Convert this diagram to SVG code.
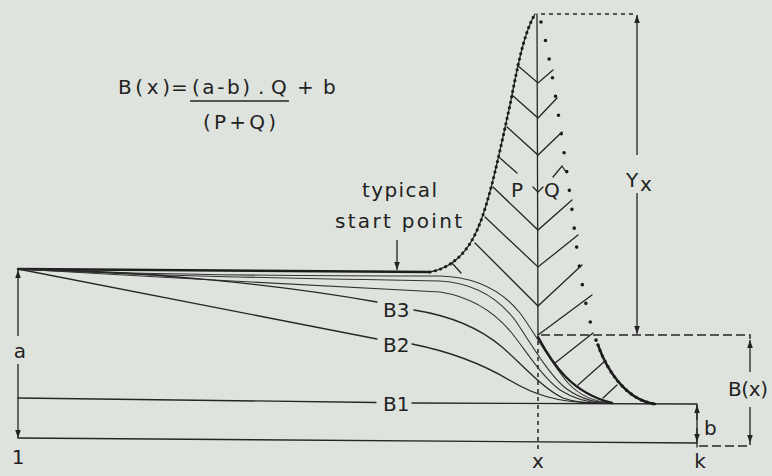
<svg xmlns="http://www.w3.org/2000/svg" width="772" height="476" viewBox="0 0 772 476">
<defs>
<style>
.ln{fill:none;stroke:#262626;stroke-width:1.3;stroke-linecap:round}
.bold{fill:none;stroke:#1c1c1c;stroke-width:2.4;stroke-linecap:round}
.thin{fill:none;stroke:#333;stroke-width:1.1}
.dots{fill:none;stroke:#1c1c1c;stroke-linecap:round}
.dash{fill:none;stroke:#262626;stroke-width:1.5;stroke-dasharray:4 4}
.dashdot{fill:none;stroke:#262626;stroke-width:1.5;stroke-dasharray:9 4}
.dim{fill:none;stroke:#262626;stroke-width:1.3}
text{font-family:"DejaVu Sans","Liberation Sans",sans-serif;font-size:20px;fill:#222}
</style>
<marker id="ah" viewBox="0 0 10 10" refX="10" refY="5" markerWidth="8" markerHeight="8" markerUnits="userSpaceOnUse" orient="auto-start-reverse">
<path d="M0,1.5 L10,5 L0,8.5 z" fill="#222"/>
</marker>
</defs>
<rect width="772" height="476" fill="#dfe3de"/>

<g id="formula">
<text x="118" y="94" textLength="52" lengthAdjust="spacing">B(x)</text>
<text x="171" y="94">=</text>
<text x="192" y="94" textLength="58" lengthAdjust="spacing">(a-b)</text>
<text x="258" y="94">.</text>
<text x="271" y="94">Q</text>
<text x="297" y="94" font-size="16">+</text>
<text x="323" y="94">b</text>
<line x1="190" y1="101" x2="289" y2="101" stroke="#262626" stroke-width="1.6"/>
<text x="203" y="129" textLength="73" lengthAdjust="spacing">(P+Q)</text>
</g>

<g id="base-lines">
<path class="bold" d="M18,269 L430,272"/>
<path class="ln" d="M18,438 L697,443"/>
<path class="ln" d="M18,398 L376,402.5"/>
<path class="ln" d="M412,403 L697,404 L697,447"/>
</g>

<g id="family-curves">
<path class="thin" d="M18,269 C120,274 300,276 440,276 C478,277 503,292 520,313 C535,333 550,362 568,383 C580,396 595,402 612,403"/>
<path class="thin" d="M18,269 C140,276 320,279 440,281 C475,283 498,298 515,320 C530,342 546,370 563,386 C576,397 592,402 608,403"/>
<path class="thin" d="M18,269 C160,278 330,285 440,292 C472,297 495,313 511,332 C527,352 542,377 560,390 C574,399 590,403 604,403"/>
<path class="ln" d="M18,269 C150,271 280,285 377,302"/>
<path class="ln" d="M414,310 C452,316 482,330 502,347 C522,364 542,388 563,398 C574,402 586,403 600,403"/>
<path class="ln" d="M18,269 L377,339"/>
<path class="ln" d="M412,344 C452,352 486,366 511,381 C533,394 556,402 592,403"/>
<path class="bold" d="M538,337 C553,365 572,393 612,403"/>
</g>

<g id="peak">
<path class="ln" d="M430,272 C452,268 468,252 478,228 C490,200 500,150 510,105 C517,70 523,35 535,14"/>
<path class="dots" stroke-width="3.2" stroke-dasharray="0 5.5" d="M430,272 C452,268 468,252 478,228 C490,200 500,150 510,105 C517,70 523,35 535,14"/>
<path class="dots" stroke-width="3.6" stroke-dasharray="0 19" d="M541,22 C548,45 560,120 572,210 C578,260 585,315 598,345"/>
<path class="bold" d="M598,345 C606,368 625,400 655,404"/>
<path class="dots" stroke-width="3.4" stroke-dasharray="0 6" d="M598,345 C606,368 625,400 655,404"/>
<path class="ln" d="M537,14 L538,335"/>
<path class="dash" stroke-dasharray="2 4" d="M538,341 L538,452"/>
<path class="dash" d="M541,14 L636,14"/>
</g>

<g id="herringbone">
<polyline class="ln" points="517,65 538,83 553,70"/>
<polyline class="ln" points="512,95 538,118 557,98"/>
<polyline class="ln" points="507,127 538,155 562,132"/>
<line class="ln" x1="500" y1="158" x2="517" y2="173"/>
<polyline class="ln" points="533,187 538,192 543,187"/>
<polyline class="ln" points="553,177 562,166 566,172"/>
<polyline class="ln" points="493,187 538,230 572,200"/>
<polyline class="ln" points="485,217 538,267 578,235"/>
<polyline class="ln" points="475,243 538,306 582,265"/>
<line class="ln" x1="538" y1="335" x2="592" y2="295"/>
<line class="ln" x1="452" y1="263" x2="461" y2="273"/>
<line class="ln" x1="555" y1="363" x2="593" y2="333"/>
<line class="ln" x1="578" y1="385" x2="605" y2="361"/>
<line class="ln" x1="603" y1="398" x2="617" y2="385"/>
</g>

<g id="dimensions">
<line class="dim" x1="18" y1="336" x2="18" y2="270" marker-end="url(#ah)"/>
<line class="dim" x1="18" y1="364" x2="18" y2="438" marker-end="url(#ah)"/>
<line class="dim" x1="637" y1="155" x2="637" y2="15" marker-end="url(#ah)"/>
<line class="dim" x1="637" y1="193" x2="637" y2="334" marker-end="url(#ah)"/>
<path class="dashdot" d="M541,335 L750,335 L750,339"/>
<line class="dim" x1="750" y1="372" x2="750" y2="340" marker-end="url(#ah)"/>
<line class="dim" x1="750" y1="407" x2="750" y2="443" marker-end="url(#ah)"/>
<path class="dashdot" d="M699,446 L750,446 L750,443"/>
<line class="dim" x1="697" y1="420" x2="697" y2="405" marker-end="url(#ah)"/>
<line class="dim" x1="697" y1="428" x2="697" y2="442" marker-end="url(#ah)"/>
<line class="dim" x1="397" y1="240" x2="397" y2="270" marker-end="url(#ah)"/>
</g>

<g id="labels">
<text x="362" y="197" textLength="75" lengthAdjust="spacing">typical</text>
<text x="335" y="228" textLength="127" lengthAdjust="spacing">start point</text>
<text x="511" y="197" font-size="19">P</text>
<text x="544" y="197" font-size="19">Q</text>
<text x="626" y="187" font-size="23">Y</text>
<text x="640" y="191" font-size="17">x</text>
<text x="383" y="317">B3</text>
<text x="383" y="352">B2</text>
<text x="383" y="411">B1</text>
<text x="728" y="396" textLength="40" lengthAdjust="spacing">B(x)</text>
<text x="704" y="435">b</text>
<text x="20" y="358" text-anchor="middle">a</text>
<text x="18" y="464" text-anchor="middle">1</text>
<text x="538" y="468" text-anchor="middle" font-size="19">x</text>
<text x="700" y="468" text-anchor="middle" font-size="19">k</text>
</g>
</svg>
